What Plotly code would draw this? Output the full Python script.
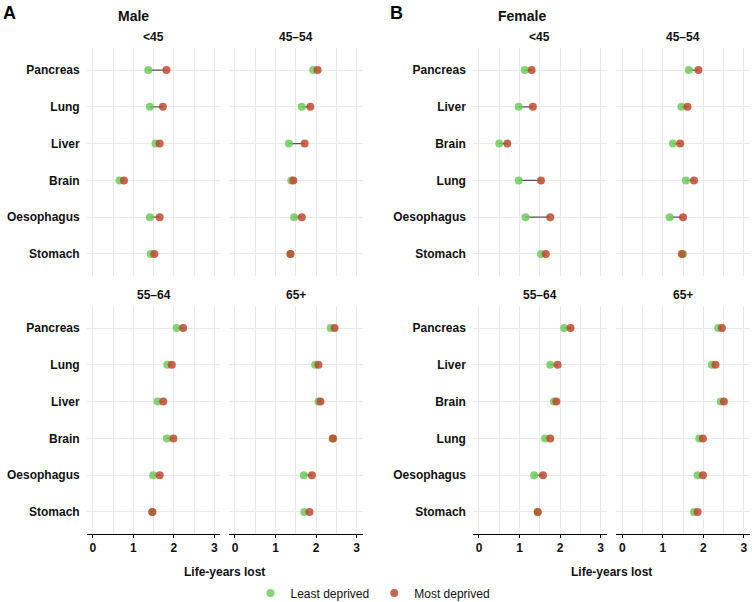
import plotly.graph_objects as go

# ---------------- data ----------------
AGE_GROUPS = ["<45", "45–54", "55–64", "65+"]
MALE_SITES = ["Pancreas", "Lung", "Liver", "Brain", "Oesophagus", "Stomach"]
FEMALE_SITES = ["Pancreas", "Liver", "Brain", "Lung", "Oesophagus", "Stomach"]
X_TICKS = [0, 1, 2, 3]

male_lt45_least = [1.37, 1.41, 1.55, 0.66, 1.41, 1.43]
male_lt45_most = [1.82, 1.73, 1.65, 0.77, 1.65, 1.52]
male_4554_least = [1.93, 1.65, 1.33, 1.39, 1.46, 1.37]
male_4554_most = [2.04, 1.86, 1.72, 1.44, 1.65, 1.37]
male_5564_least = [2.07, 1.84, 1.60, 1.83, 1.49, 1.47]
male_5564_most = [2.23, 1.95, 1.74, 1.99, 1.65, 1.47]
male_65_least = [2.36, 1.98, 2.06, 2.41, 1.70, 1.71]
male_65_most = [2.46, 2.06, 2.11, 2.42, 1.90, 1.84]

female_lt45_least = [1.13, 0.98, 0.50, 0.98, 1.15, 1.53]
female_lt45_most = [1.30, 1.33, 0.70, 1.53, 1.76, 1.65]
female_4554_least = [1.64, 1.46, 1.25, 1.57, 1.17, 1.50]
female_4554_most = [1.88, 1.61, 1.43, 1.77, 1.50, 1.47]
female_5564_least = [2.10, 1.76, 1.85, 1.63, 1.36, 1.45]
female_5564_most = [2.26, 1.94, 1.91, 1.76, 1.58, 1.45]
female_65_least = [2.37, 2.21, 2.43, 1.90, 1.86, 1.77]
female_65_most = [2.46, 2.30, 2.51, 1.99, 1.99, 1.86]

# ---------------- layout helpers ----------------
W, H = 752, 602
FONT = "Liberation Sans, Arial, Helvetica, sans-serif"
GREEN = "#6fcc5e"
RED = "#bd4a30"
GRID = "#e9e9e9"

def fx(px):
    return px / W

def fy(py):
    return 1 - py / H

# panel pixel boxes
COLS = {"M1": (86.7, 220.4), "M2": (228.9, 362.6), "F1": (472.9, 606.6), "F2": (616.2, 749.9)}
ROWS = {"top": (48, 276), "bot": (306, 534)}

panels = [
    ("M1", "top", AGE_GROUPS[0], MALE_SITES, male_lt45_least, male_lt45_most),
    ("M2", "top", AGE_GROUPS[1], MALE_SITES, male_4554_least, male_4554_most),
    ("F1", "top", AGE_GROUPS[0], FEMALE_SITES, female_lt45_least, female_lt45_most),
    ("F2", "top", AGE_GROUPS[1], FEMALE_SITES, female_4554_least, female_4554_most),
    ("M1", "bot", AGE_GROUPS[2], MALE_SITES, male_5564_least, male_5564_most),
    ("M2", "bot", AGE_GROUPS[3], MALE_SITES, male_65_least, male_65_most),
    ("F1", "bot", AGE_GROUPS[2], FEMALE_SITES, female_5564_least, female_5564_most),
    ("F2", "bot", AGE_GROUPS[3], FEMALE_SITES, female_65_least, female_65_most),
]

fig = go.Figure()
annotations = []
layout_axes = {}

for i, (col, row, age, sites, least, most) in enumerate(panels, start=1):
    xa = "x" if i == 1 else f"x{i}"
    ya = "y" if i == 1 else f"y{i}"
    xkey = "xaxis" if i == 1 else f"xaxis{i}"
    ykey = "yaxis" if i == 1 else f"yaxis{i}"

    sx, sy = [], []
    for s, a, b in zip(sites, least, most):
        sx += [a, b, None]
        sy += [s, s, None]
    fig.add_trace(go.Scatter(x=sx, y=sy, mode="lines", xaxis=xa, yaxis=ya,
                             line=dict(color="#555555", width=1.3),
                             showlegend=False, hoverinfo="skip"))
    fig.add_trace(go.Scatter(x=least, y=sites, mode="markers", xaxis=xa, yaxis=ya,
                             name="Least deprived", legendgroup="least",
                             showlegend=(i == 1),
                             marker=dict(color=GREEN, size=8, opacity=0.85)))
    fig.add_trace(go.Scatter(x=most, y=sites, mode="markers", xaxis=xa, yaxis=ya,
                             name="Most deprived", legendgroup="most",
                             showlegend=(i == 1),
                             marker=dict(color=RED, size=8, opacity=0.85)))

    x0, x1 = COLS[col]
    y0, y1 = ROWS[row]
    bottom = row == "bot"
    left = col in ("M1", "F1")

    layout_axes[xkey] = dict(
        domain=[fx(x0), fx(x1)], anchor=ya, range=[-0.15, 3.15],
        tickvals=X_TICKS, ticktext=[str(t) for t in X_TICKS],
        showticklabels=bottom, showgrid=True, gridcolor=GRID, gridwidth=1,
        minor=dict(dtick=0.5, tick0=0, showgrid=True, gridcolor=GRID, gridwidth=1, ticks=""),
        zeroline=False, showline=bottom, linecolor="#000000", linewidth=1,
        ticks="outside" if bottom else "", ticklen=3, tickcolor="#000000",
        tickfont=dict(family=FONT, size=12, color="#111111", weight="bold"),
    )
    layout_axes[ykey] = dict(
        domain=[fy(y1), fy(y0)], anchor=xa, type="category",
        categoryorder="array", categoryarray=sites, range=[5.6, -0.6],
        showticklabels=left, showgrid=True, gridcolor=GRID, gridwidth=1,
        zeroline=False, showline=False, ticks="", ticklabelstandoff=6,
        tickfont=dict(family=FONT, size=12, color="#111111", weight="bold"),
    )

    annotations.append(dict(text=f"<b>{age}</b>", x=fx((x0 + x1) / 2),
                            y=fy(y0 - 11), xanchor="center", yanchor="middle",
                            font=dict(family=FONT, size=12, color="#111111")))

annotations += [
    dict(text="<b>A</b>", x=fx(1), y=fy(0.5), xanchor="left", yanchor="top",
         font=dict(family=FONT, size=18, color="#000000")),
    dict(text="<b>B</b>", x=fx(388), y=fy(0.5), xanchor="left", yanchor="top",
         font=dict(family=FONT, size=18, color="#000000")),
    dict(text="<b>Male</b>", x=fx(116), y=fy(16), xanchor="left", yanchor="middle",
         font=dict(family=FONT, size=14, color="#111111")),
    dict(text="<b>Female</b>", x=fx(496), y=fy(16), xanchor="left", yanchor="middle",
         font=dict(family=FONT, size=14, color="#111111")),
    dict(text="<b>Life-years lost</b>", x=fx((86.7 + 362.6) / 2), y=fy(572),
         xanchor="center", yanchor="middle",
         font=dict(family=FONT, size=12, color="#111111")),
    dict(text="<b>Life-years lost</b>", x=fx((472.9 + 749.9) / 2), y=fy(572),
         xanchor="center", yanchor="middle",
         font=dict(family=FONT, size=12, color="#111111")),
]
for a in annotations:
    a.setdefault("xref", "paper")
    a.setdefault("yref", "paper")
    a.setdefault("showarrow", False)

fig.update_layout(
    width=W, height=H,
    margin=dict(l=0, r=0, t=0, b=0, autoexpand=False),
    paper_bgcolor="white", plot_bgcolor="white",
    font=dict(family=FONT, size=12, color="#111111"),
    annotations=annotations,
    showlegend=True,
    legend=dict(orientation="h", x=fx(373), y=fy(593), xanchor="center",
                yanchor="middle", font=dict(family=FONT, size=12, color="#111111"),
                itemwidth=30, bgcolor="rgba(0,0,0,0)", tracegroupgap=0),
    **layout_axes,
)

fig.write_html("out.html", config={"displayModeBar": False},
               post_script="document.body.style.margin='0';")
